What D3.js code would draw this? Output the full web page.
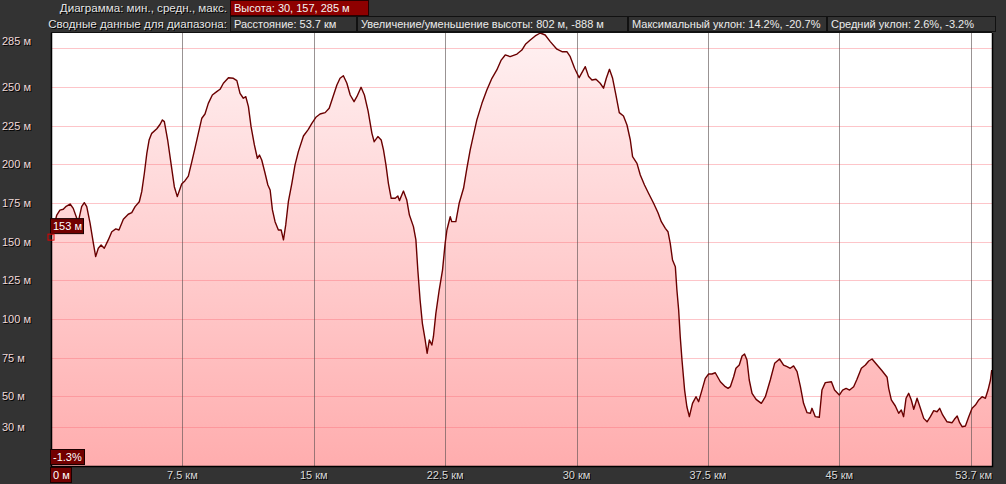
<!DOCTYPE html>
<html>
<head>
<meta charset="utf-8">
<script src="https://cdn.jsdelivr.net/npm/d3@7"></script>
<style>
  body { margin: 0; background: #333333; overflow: hidden; }
  svg text { font-family: "Liberation Sans", Arial, sans-serif; font-size: 11px; }
  svg text.hdr { font-size: 11.6px; }
</style>
</head>
<body>
<div id="vis"></div>
<script>
// elevation profile
const distKm = [0, 0.33, 0.51, 0.70, 0.84, 1.09, 1.27, 1.47, 1.56, 1.75, 1.90, 2.04, 2.23, 2.42, 2.55, 2.70, 2.86, 3.04, 3.27, 3.47,
  3.70, 3.88, 4.13, 4.41, 4.61, 4.80, 5.04, 5.18, 5.33, 5.47, 5.60, 5.75, 6.04, 6.23, 6.36, 6.47, 6.66, 6.85, 7.04, 7.21,
  7.46, 7.65, 7.84, 8.04, 8.22, 8.41, 8.61, 8.79, 8.98, 9.21, 9.46, 9.65, 9.84, 10.13, 10.41, 10.61, 10.79, 10.98, 11.12, 11.27,
  11.42, 11.61, 11.78, 11.90, 12.03, 12.22, 12.38, 12.51, 12.64, 12.79, 12.98, 13.14, 13.27, 13.40, 13.55, 13.75, 13.93, 14.12, 14.41, 14.69,
  14.89, 15.12, 15.36, 15.65, 15.88, 16.07, 16.32, 16.50, 16.69, 16.89, 17.08, 17.30, 17.46, 17.70, 17.89, 18.10, 18.32, 18.45, 18.66, 18.85,
  18.98, 19.12, 19.26, 19.42, 19.65, 19.80, 19.89, 20.12, 20.31, 20.46, 20.69, 20.83, 20.94, 21.07, 21.20, 21.36, 21.47, 21.60, 21.74, 21.83,
  21.97, 22.16, 22.35, 22.50, 22.60, 22.79, 22.88, 23.11, 23.30, 23.55, 23.74, 23.93, 24.12, 24.31, 24.60, 24.88, 25.17, 25.45, 25.70, 25.93,
  26.21, 26.60, 26.88, 27.10, 27.36, 27.64, 27.93, 28.21, 28.50, 28.88, 29.17, 29.45, 29.64, 29.89, 30.15, 30.34, 30.50, 30.69, 30.88, 31.11,
  31.35, 31.54, 31.70, 31.88, 32.06, 32.25, 32.44, 32.68, 32.88, 33.07, 33.20, 33.45, 33.64, 33.88, 34.11, 34.40, 34.65, 34.84, 35.07, 35.22,
  35.35, 35.48, 35.64, 35.73, 35.83, 35.92, 36.02, 36.17, 36.30, 36.44, 36.62, 36.82, 36.97, 37.16, 37.35, 37.54, 37.73, 37.92, 38.21, 38.45,
  38.65, 38.78, 38.97, 39.10, 39.29, 39.45, 39.59, 39.73, 39.86, 40.02, 40.25, 40.55, 40.78, 41.06, 41.31, 41.59, 41.82, 42.02, 42.20, 42.39,
  42.59, 42.78, 42.96, 43.16, 43.35, 43.44, 43.63, 43.86, 44.01, 44.20, 44.55, 44.73, 45.00, 45.19, 45.39, 45.59, 45.82, 46.01, 46.26, 46.49,
  46.68, 46.87, 47.16, 47.44, 47.73, 47.82, 47.97, 48.20, 48.39, 48.54, 48.67, 48.81, 48.96, 49.11, 49.25, 49.44, 49.63, 49.82, 50.01, 50.20,
  50.39, 50.58, 50.73, 50.90, 51.15, 51.44, 51.57, 51.73, 51.87, 52.01, 52.20, 52.39, 52.58, 52.77, 52.96, 53.15, 53.34, 53.49, 53.63, 53.70];

const elevM = [153, 167.3, 170.5, 171.0, 172.7, 174.4, 171.6, 165.2, 163.0, 172.7, 175.3, 172.7, 162.0, 149.0, 140.4, 145.8, 147.9, 145.8, 151.2, 156.5,
  158.3, 157.6, 164.5, 167.8, 168.8, 172.7, 175.9, 182.4, 194.3, 207.2, 215.8, 220.1, 223.1, 226.0, 228.8, 227.7, 215.8, 200.7, 185.6, 179.2,
  187.4, 189.5, 192.5, 201.8, 210.5, 220.1, 229.9, 232.6, 239.5, 244.9, 247.1, 248.6, 252.5, 256.1, 255.7, 254.2, 246.0, 242.8, 243.8, 237.4,
  224.4, 212.6, 204.0, 206.1, 202.9, 194.3, 186.7, 183.5, 170.6, 163.0, 157.6, 157.6, 151.2, 160.9, 175.9, 187.8, 199.7, 208.3, 218.4, 222.7,
  226.6, 230.5, 232.6, 233.5, 236.3, 242.8, 251.4, 255.7, 257.4, 252.5, 244.9, 240.6, 243.8, 249.9, 244.9, 234.6, 220.1, 214.7, 218.0, 215.8,
  209.4, 199.7, 187.8, 178.1, 178.1, 179.6, 176.6, 182.8, 177.0, 167.3, 159.8, 151.2, 131.7, 112.3, 97.3, 86.5, 77.9, 86.5, 83.2, 88.6,
  103.7, 118.8, 131.7, 149.0, 157.6, 166.2, 163.0, 163.0, 174.9, 184.6, 197.5, 209.4, 219.1, 228.8, 239.5, 248.2, 255.7, 261.1, 267.5, 270.8,
  269.7, 271.4, 274.0, 277.9, 280.5, 283.1, 285.0, 283.7, 279.4, 274.5, 272.9, 272.9, 269.7, 262.2, 256.1, 260.0, 263.2, 256.8, 254.6, 255.1,
  252.5, 249.3, 255.7, 261.5, 255.7, 244.9, 233.5, 231.3, 225.5, 215.8, 205.0, 200.7, 193.2, 186.7, 181.4, 174.9, 168.8, 163.0, 158.7, 156.5,
  149.0, 138.2, 133.9, 118.8, 105.9, 88.6, 73.5, 54.1, 43.3, 36.9, 45.5, 49.8, 46.6, 54.1, 61.7, 64.5, 64.5, 65.3, 59.5, 56.7,
  55.2, 56.3, 62.7, 68.2, 70.3, 76.1, 77.4, 73.5, 60.6, 52.0, 48.1, 45.5, 49.8, 60.6, 71.4, 74.2, 70.3, 69.2, 68.2, 69.7,
  66.0, 56.3, 45.5, 39.5, 39.1, 42.3, 36.9, 36.5, 54.1, 58.9, 59.5, 54.1, 50.9, 54.1, 55.2, 54.1, 56.3, 61.1, 68.2, 70.3,
  72.9, 74.2, 70.3, 66.6, 62.4, 55.2, 47.7, 43.8, 39.1, 41.2, 36.9, 48.8, 52.0, 47.7, 41.7, 48.8, 42.3, 35.8, 33.6, 36.9,
  40.8, 40.1, 42.3, 38.0, 33.6, 33.0, 35.2, 37.3, 33.0, 30.4, 30.9, 36.9, 42.3, 44.4, 47.7, 49.8, 48.8, 54.1, 60.6, 67.1];

const yLabelValues = [285, 250, 225, 200, 175, 150, 125, 100, 75, 50, 30];
const yGridValues = [275, 250, 225, 200, 175, 150, 125, 100, 75, 50, 30];
const xTickValues = [7.5, 15, 22.5, 30, 37.5, 45, 52.5];
const xTickLabels = ["7.5 км", "15 км", "22.5 км", "30 км", "37.5 км", "45 км", "53.7 км"];

const headerLabels = ["Диаграмма: мин., средн., макс.", "Сводные данные для диапазона:"];
const summaryCells = ["Расстояние: 53.7 км", "Увеличение/уменьшение высоты: 802 м, -888 м",
  "Максимальный уклон: 14.2%, -20.7%", "Средний уклон: 2.6%, -3.2%"];
const summaryEdges = [230, 357, 628, 827, 996];

const W = 1006, H = 484;
const plot = { left: 51, top: 33, right: 992, bottom: 466 };

const svg = d3.select("#vis").append("svg")
  .attr("width", W)
  .attr("height", H);

svg.append("rect").attr("width", W).attr("height", H).attr("fill", "#333333");

const x = d3.scaleLinear().domain([0, 53.7]).range([plot.left, 991.7]);
const y = d3.scaleLinear().domain([5, 285]).range([plot.bottom, plot.top]);

// gradient for the area under the profile
const defs = svg.append("defs");
const grad = defs.append("linearGradient")
  .attr("id", "fillGrad")
  .attr("gradientUnits", "userSpaceOnUse")
  .attr("x1", 0).attr("y1", plot.top).attr("x2", 0).attr("y2", plot.bottom);
grad.append("stop").attr("offset", "0%").attr("stop-color", "#fff1f2");
grad.append("stop").attr("offset", "100%").attr("stop-color", "#ffadae");

// plot background
svg.append("rect")
  .attr("x", plot.left).attr("y", plot.top)
  .attr("width", plot.right - plot.left).attr("height", plot.bottom - plot.top)
  .attr("fill", "#ffffff");

const data = distKm.map((d, i) => ({ km: d, m: elevM[i] }));

// area
svg.append("path")
  .datum(data)
  .attr("fill", "url(#fillGrad)")
  .attr("d", d3.area().x(d => x(d.km)).y0(plot.bottom).y1(d => y(d.m)));

// horizontal grid
svg.append("g").selectAll("line")
  .data(yGridValues)
  .join("line")
  .attr("x1", plot.left).attr("x2", plot.right)
  .attr("y1", d => Math.round(y(d)) + 0.5).attr("y2", d => Math.round(y(d)) + 0.5)
  .attr("stroke", "rgba(250,110,120,0.4)")
  .attr("stroke-width", 1);

// vertical grid
svg.append("g").selectAll("line")
  .data(xTickValues)
  .join("line")
  .attr("x1", d => Math.round(x(d)) + 0.5).attr("x2", d => Math.round(x(d)) + 0.5)
  .attr("y1", plot.top).attr("y2", plot.bottom)
  .attr("stroke", "rgba(90,80,80,0.62)")
  .attr("stroke-width", 1);

// profile line
svg.append("path")
  .datum(data)
  .attr("fill", "none")
  .attr("stroke", "#6a0000")
  .attr("stroke-width", 1.4)
  .attr("stroke-linejoin", "round")
  .attr("d", d3.line().x(d => x(d.km)).y(d => y(d.m)));

// frame
svg.append("path")
  .attr("d", `M${plot.left + 0.5},${plot.top} V${plot.bottom + 0.5} H${plot.right + 0.5} V${plot.top}`)
  .attr("fill", "none")
  .attr("stroke", "#000")
  .attr("stroke-width", 1.5);
svg.append("line")
  .attr("x1", plot.left).attr("x2", plot.right)
  .attr("y1", plot.top - 0.5).attr("y2", plot.top - 0.5)
  .attr("stroke", "#111");

function shadowText(g, tx, ty, str, anchor, color, cls) {
  g.append("text").attr("class", cls || null).attr("x", tx + 1).attr("y", ty + 1).attr("text-anchor", anchor)
    .attr("fill", "#000").text(str);
  g.append("text").attr("class", cls || null).attr("x", tx).attr("y", ty).attr("text-anchor", anchor)
    .attr("fill", color).text(str);
}

// y labels
const yl = svg.append("g");
yLabelValues.forEach(v => {
  const ty = Math.max(y(v), 41);
  shadowText(yl, 2, ty + 4, v + " м", "start", "#efd9d9");
});

// x labels
const xl = svg.append("g");
xTickValues.forEach((v, i) => {
  const last = i === xTickValues.length - 1;
  shadowText(xl, last ? 992 : x(v), 479, xTickLabels[i], last ? "end" : "middle", "#d8d8d8");
});

// header
const hd = svg.append("g");
shadowText(hd, 227, 12, headerLabels[0], "end", "#e4e4e4", "hdr");
shadowText(hd, 227, 28, headerLabels[1], "end", "#e4e4e4", "hdr");

hd.append("rect")
  .attr("x", 230.5).attr("y", 0.5).attr("width", 138).attr("height", 15)
  .attr("fill", "#8e0000").attr("stroke", "#2a0000");
hd.append("text").attr("x", 234).attr("y", 12).attr("fill", "#f4f4f4").text("Высота: 30, 157, 285 м");

summaryCells.forEach((t, i) => {
  hd.append("rect")
    .attr("x", summaryEdges[i] + 0.5).attr("y", 16.5)
    .attr("width", summaryEdges[i + 1] - summaryEdges[i] - 1).attr("height", 15)
    .attr("fill", "#333333").attr("stroke", "#111111");
  hd.append("text").attr("x", summaryEdges[i] + 4).attr("y", 28).attr("fill", "#ececec").text(t);
});

// markers
function markerBox(bx, by, w, str) {
  svg.append("rect").attr("x", bx + 0.5).attr("y", by + 0.5).attr("width", w).attr("height", 15)
    .attr("fill", "#720000").attr("stroke", "#1a0000");
  svg.append("text").attr("x", bx + 3).attr("y", by + 12).attr("fill", "#ffffff").text(str);
}
markerBox(plot.left - 1, y(elevM[0]) - 19, 33, elevM[0] + " м");
svg.append("rect")
  .attr("x", x(distKm[0]) - 3).attr("y", y(elevM[0]) - 3)
  .attr("width", 6).attr("height", 6)
  .attr("fill", "none").attr("stroke", "#e00000");
markerBox(plot.left - 1, 449, 34, "-1.3%");
markerBox(plot.left - 1, 467, 21, "0 м");
</script>
</body>
</html>
